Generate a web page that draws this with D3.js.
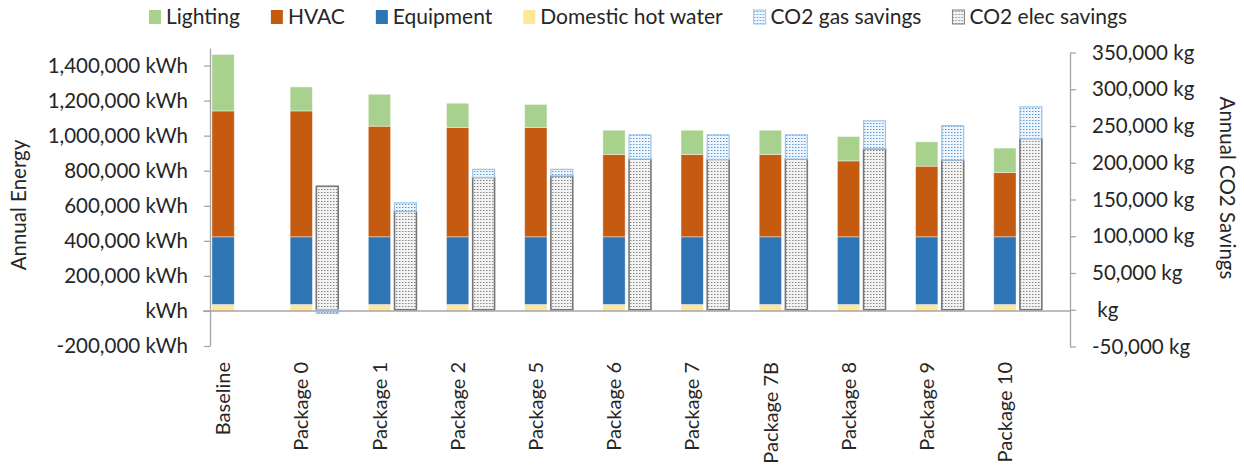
<!DOCTYPE html>
<html>
<head>
<meta charset="utf-8">
<script src="https://cdnjs.cloudflare.com/ajax/libs/d3/7.8.5/d3.min.js"></script>
<style>
    body { margin: 0; background: #fff; }
    svg { display: block; font-family: Lato, "Liberation Sans", sans-serif; }
    text { fill: #262626; }
</style>
</head>
<body>
<svg id="chart" width="1244" height="465"></svg>
<script>
// chart data

const categories = ['Baseline', 'Package 0', 'Package 1', 'Package 2', 'Package 5', 'Package 6',
    'Package 7', 'Package 7B', 'Package 8', 'Package 9', 'Package 10'];

// kWh per year, stacked bottom -> top: hot water, equipment, hvac, lighting
const hotWater = [37000, 37000, 37000, 37000, 37000, 37000, 37000, 37000, 37000, 37000, 37000];
const equipment = [386000, 386000, 386000, 386000, 386000, 386000, 386000, 386000, 386000, 386000, 386000];
const hvac = [718000, 718000, 631000, 624000, 624000, 470000, 470000, 470000, 433000, 403000, 367000];
const lighting = [322000, 137000, 182000, 138000, 131000, 138000, 138000, 138000, 139000, 139000, 139000];

// kg CO2 per year
const co2Elec = [0, 168000, 134000, 180000, 182000, 205000, 204500, 205000, 219000, 203500, 233000];
const co2Gas = [0, -5000, 11500, 11000, 9000, 33000, 33500, 33000, 38000, 47000, 43000];

const energyTicks = [-200000, 0, 200000, 400000, 600000, 800000, 1000000, 1200000, 1400000];
const co2Ticks = [-50000, 0, 50000, 100000, 150000, 200000, 250000, 300000, 350000];

const legendItems = [
    {name: 'Lighting', fill: '#a9d18e'},
    {name: 'HVAC', fill: '#c55a11'},
    {name: 'Equipment', fill: '#2e75b6'},
    {name: 'Domestic hot water', fill: '#ffe699'},
    {name: 'CO2 gas savings', fill: 'url(#gasPat)', stroke: '#9dc3e6'},
    {name: 'CO2 elec savings', fill: 'url(#elecPat)', stroke: '#7f7f7f'}
];

const svg = d3.select('#chart');
const axisColor = '#a6a6a6';

// patterns for the co2 bars
let defs = svg.append('defs');
let gas = defs.append('pattern').attr('id', 'gasPat')
    .attr('patternUnits', 'userSpaceOnUse').attr('width', 3).attr('height', 3);
gas.append('rect').attr('width', 3).attr('height', 3).attr('fill', '#eef5fc');
gas.append('rect').attr('width', 1).attr('height', 1).attr('fill', '#5b9bd5');
gas.append('rect').attr('x', 1).attr('width', 1).attr('height', 1).attr('fill', '#a9cbeb');

let elec = defs.append('pattern').attr('id', 'elecPat')
    .attr('patternUnits', 'userSpaceOnUse').attr('width', 3).attr('height', 3);
elec.append('rect').attr('width', 3).attr('height', 3).attr('fill', '#f3f3f3');
elec.append('rect').attr('width', 1).attr('height', 1).attr('fill', '#858585');
elec.append('rect').attr('x', 1).attr('width', 1).attr('height', 1).attr('fill', '#c2c2c2');

// scales
let x = d3.scaleBand().domain(categories).range([210, 1070]);
let yL = d3.scaleLinear().domain([-200000, 1500000]).range([346, 48]);
let yR = d3.scaleLinear().domain([-50000, 350000]).range([346.5, 52.5]);
const bw = x.bandwidth();

let energyRows = categories.map((c, i) => ({
    cat: c, hotWater: hotWater[i], equipment: equipment[i], hvac: hvac[i], lighting: lighting[i]
}));
let co2Rows = categories.map((c, i) => ({cat: c, elec: co2Elec[i], gas: co2Gas[i]}));

let energyStack = d3.stack().keys(['hotWater', 'equipment', 'hvac', 'lighting'])(energyRows);
let co2Stack = d3.stack().keys(['elec', 'gas']).offset(d3.stackOffsetDiverging)(co2Rows);

const energyColors = {hotWater: '#ffe699', equipment: '#2e75b6', hvac: '#c55a11', lighting: '#a9d18e'};
const co2Style = {
    elec: {fill: 'url(#elecPat)', stroke: '#767676'},
    gas: {fill: 'url(#gasPat)', stroke: '#9dc3e6'}
};

// energy bars
svg.append('g').selectAll('g')
    .data(energyStack)
    .join('g')
    .attr('fill', d => energyColors[d.key])
    .selectAll('rect')
    .data(d => d)
    .join('rect')
    .attr('x', d => x(d.data.cat) + bw * 0.025)
    .attr('width', bw * 0.285)
    .attr('y', d => yL(d[1]))
    .attr('height', d => yL(d[0]) - yL(d[1]))
    .attr('stroke', '#ffffff')
    .attr('stroke-opacity', 0.5)
    .attr('stroke-width', 0.8);

// co2 bars on the right axis
svg.append('g').selectAll('g')
    .data(co2Stack)
    .join('g')
    .attr('fill', d => co2Style[d.key].fill)
    .attr('stroke', d => co2Style[d.key].stroke)
    .attr('stroke-width', d => d.key === 'elec' ? 1.6 : 1.2)
    .selectAll('rect')
    .data(d => d.filter(v => v[1] !== v[0]))
    .join('rect')
    .attr('x', d => x(d.data.cat) + bw * 0.36)
    .attr('width', bw * 0.28)
    .attr('y', d => yR(Math.max(d[0], d[1])))
    .attr('height', d => Math.abs(yR(d[0]) - yR(d[1])));

// axes
let fmt = d3.format(',');
let num = v => v === 0 ? '' : fmt(v).replace('\u2212', '-');

let leftAxis = svg.append('g')
    .attr('transform', 'translate(210,0)')
    .call(d3.axisLeft(yL).tickValues(energyTicks).tickSize(6).tickSizeOuter(0)
        .tickPadding(16).tickFormat(v => num(v) + (v === 0 ? 'kWh' : ' kWh')));

let rightAxis = svg.append('g')
    .attr('transform', 'translate(1070,0)')
    .call(d3.axisRight(yR).tickValues(co2Ticks).tickSize(6).tickSizeOuter(0)
        .tickPadding(16).tickFormat(v => num(v) + ' kg'));

[leftAxis, rightAxis].forEach(a => {
    a.select('.domain').attr('stroke', axisColor).attr('stroke-width', 1.3);
    a.selectAll('.tick line').attr('stroke', axisColor).attr('stroke-width', 1.3);
    a.selectAll('.tick text')
        .attr('font-size', 20.5)
        .attr('fill', '#262626')
        .style('font-family', 'Lato, sans-serif')
        .style('white-space', 'pre');
});

// category axis at zero
svg.append('line')
    .attr('x1', 203).attr('x2', 1070)
    .attr('y1', yL(0)).attr('y2', yL(0))
    .attr('stroke', axisColor).attr('stroke-width', 1.6);

svg.append('g').selectAll('text')
    .data(categories)
    .join('text')
    .attr('transform', d => `translate(${x(d) + bw * 0.17 + 7},362) rotate(-90)`)
    .attr('text-anchor', 'end')
    .attr('font-size', 20)
    .text(d => d);

// axis titles
svg.append('text')
    .attr('transform', 'translate(26,205) rotate(-90)')
    .attr('text-anchor', 'middle')
    .attr('font-size', 20.5)
    .text('Annual Energy');

svg.append('text')
    .attr('transform', 'translate(1220,188) rotate(90)')
    .attr('text-anchor', 'middle')
    .attr('font-size', 20.5)
    .text('Annual CO2 Savings');

// legend, laid out from text widths and centred on the plot
let legend = svg.append('g').attr('transform', 'translate(0,17)');
let items = legend.selectAll('g')
    .data(legendItems)
    .join('g');
items.append('rect')
    .attr('y', -7).attr('width', 12).attr('height', 14)
    .attr('fill', d => d.fill)
    .attr('stroke', d => d.stroke || 'none')
    .attr('stroke-width', 1);
items.append('text')
    .attr('x', 17)
    .attr('dy', '0.35em')
    .attr('font-size', 21)
    .text(d => d.name);

let xPos = 0;
let offsets = [];
items.each(function () {
    offsets.push(xPos);
    xPos += 17 + d3.select(this).select('text').node().getComputedTextLength() + 31;
});
let totalW = xPos - 31;
let startX = 638 - totalW / 2;
items.attr('transform', (d, i) => `translate(${startX + offsets[i]},0)`);
</script>
</body>
</html>
